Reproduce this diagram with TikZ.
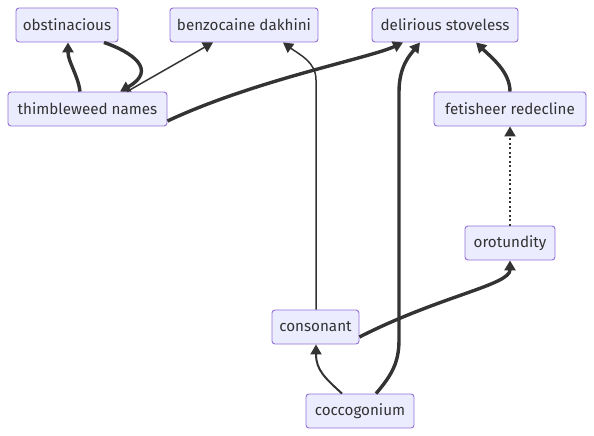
\documentclass[tikz,border=0pt]{standalone}
\usepackage{fontspec}
\setmainfont{Fira Sans}
\usetikzlibrary{arrows.meta}
\definecolor{nodefill}{HTML}{ECECFF}
\definecolor{nodeborder}{HTML}{9370DB}
\definecolor{edgecol}{HTML}{333333}
\begin{document}
\begin{tikzpicture}[x=1pt,y=-1pt,
  box/.style={draw=nodeborder,fill=nodefill,rounded corners=3pt,line width=0.9pt,
    minimum height=34pt,inner sep=0pt,text=edgecol,font=\fontsize{15.2}{17}\selectfont},
  edge/.style={draw=edgecol,line width=2pt,-{Triangle[length=10pt,width=11pt]}},
  thickedge/.style={edge,line width=3.4pt},
  thinedge/.style={edge,line width=1.5pt},
  dottededge/.style={edge,line width=2pt,dash pattern=on 2pt off 2.5pt}]
\useasboundingbox (0,0) rectangle (594,436);
\node[box,minimum width=102pt] (obst) at (67,25) {obstinacious};
\node[box,minimum width=148pt] (benz) at (244,25) {benzocaine dakhini};
\node[box,minimum width=146pt] (deli) at (445,25) {delirious stoveless};
\node[box,minimum width=159pt] (thimb) at (87.5,109) {thimbleweed names};
\node[box,minimum width=152pt] (fet) at (510,109) {fetisheer redecline};
\node[box,minimum width=90pt] (orot) at (510,243) {orotundity};
\node[box,minimum width=87pt] (cons) at (315.5,327) {consonant};
\node[box,minimum width=108pt] (cocc) at (360,411) {coccogonium};
% edges
\draw[thickedge] ([xshift=-7.5pt]thimb.north) .. controls (78,75) and (68,62) .. ([xshift=1pt]obst.south);
\draw[thickedge] ([xshift=37pt]obst.south) .. controls (132,52) and (158,70) .. ([xshift=32.5pt]thimb.north);
\draw[thinedge] ([xshift=39.5pt]thimb.north) -- ([xshift=-31pt]benz.south);
\draw[thickedge] ([yshift=-12pt]thimb.east) .. controls (255,80) and (370,58) .. ([xshift=-42pt]deli.south);
\draw[thinedge] ([xshift=0.5pt]cons.north) -- (316,80) .. controls (316,62) and (300,55) .. ([xshift=39pt]benz.south);
\draw[thickedge] ([xshift=16pt]cocc.north) .. controls (392,375) and (399,362) .. (399,340) -- (399,92) .. controls (399,66) and (410,55) .. ([xshift=-25pt]deli.south);
\draw[thickedge] (fet.north) .. controls (510,72) and (492,58) .. ([xshift=31pt]deli.south);
\draw[dottededge] (orot.north) -- (fet.south);
\draw[thickedge] ([yshift=-10pt]cons.east) .. controls (440,296) and (510,285) .. (orot.south);
\draw[edge] ([xshift=-18pt]cocc.north) .. controls (325,378) and (316,370) .. ([xshift=0.5pt]cons.south);
\end{tikzpicture}
\end{document}
